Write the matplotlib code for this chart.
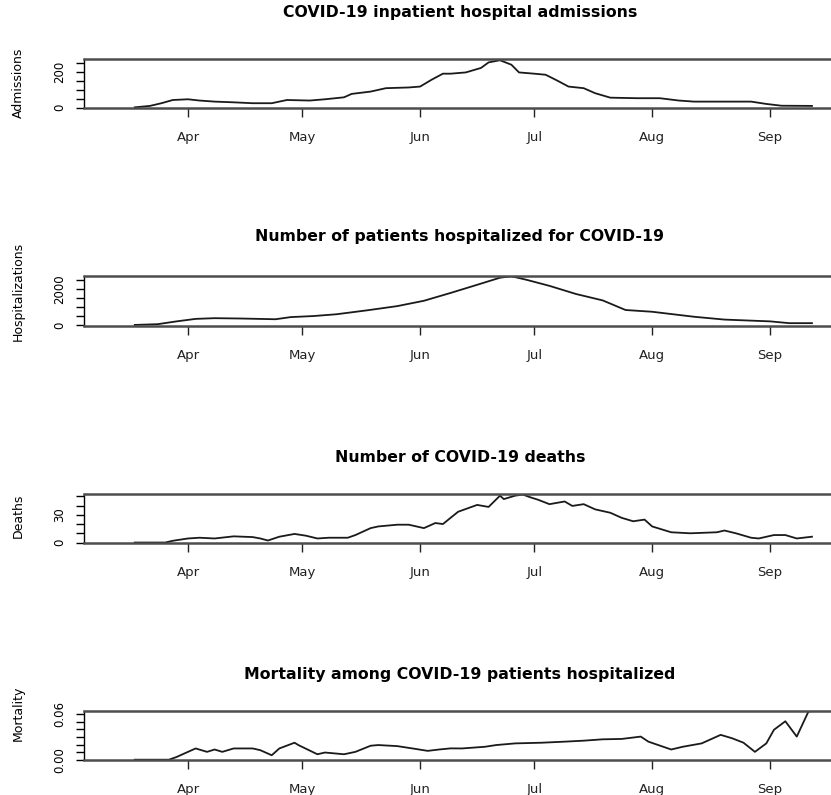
import numpy as np
import pandas as pd
import matplotlib
matplotlib.use('Agg')
import matplotlib.pyplot as plt
import matplotlib.dates as mdates

# days counted from 2020-03-01
start = pd.Timestamp('2020-03-01')

adm_day = [17, 21, 24, 27, 31, 34, 38, 43, 48, 53, 57, 63, 67, 72, 74, 79, 83, 89, 92, 95, 98, 100,
           104, 108, 110, 113, 116, 118, 122, 125, 128, 131, 135, 138, 142, 149, 155, 160, 164, 170,
           179, 183, 187, 195]
adm = [2, 10, 25, 43, 47, 40, 34, 30, 25, 25, 43, 40, 47, 58, 77, 90, 109, 113, 118, 156, 190, 190,
       197, 222, 253, 265, 240, 197, 190, 184, 152, 118, 109, 81, 56, 53, 53, 40, 34, 34,
       34, 21, 11, 10]

hosp_day = [17, 23, 28, 33, 38, 45, 54, 58, 64, 70, 78, 86, 93, 100, 107, 113, 116, 120, 126, 133,
            140, 146, 153, 164, 172, 184, 189, 195]
hosp = [0, 40, 197, 335, 374, 355, 315, 434, 493, 591, 808, 1044, 1340, 1774, 2227, 2620, 2700, 2503,
        2168, 1715, 1360, 828, 730, 453, 296, 197, 98, 98]

death_day = [17, 25, 27, 31, 34, 38, 43, 48, 50, 52, 55, 59, 62, 65, 68, 73, 75, 79, 81, 86, 89, 93,
             96, 98, 100, 102, 107, 110, 113, 114, 117, 119, 121, 123, 126, 130, 132, 135, 138, 142,
             145, 148, 151, 153, 158, 163, 170, 172, 175, 179, 181, 185, 188, 191, 195]
deaths = [0, 0, 1.9, 4.4, 5.2, 4.4, 6.7, 5.9, 4.4, 2.2, 6.3, 9.3, 7.4, 4.4, 5.2, 5.2, 8.1, 15.6, 17.4,
          19.3, 19.3, 15.6, 21.1, 20, 26.7, 33.3, 40.7, 38.5, 50.7, 47, 50.7, 51.9, 48.9, 46.3, 41.5,
          44.4, 39.6, 41.5, 35.9, 32.2, 26.7, 23, 24.8, 17.4, 11.1, 10, 11.1, 13, 10, 5.2, 4.4, 8.1,
          8.1, 4.4, 6.3]

mort_day = [17, 26, 28, 31, 33, 36, 38, 40, 43, 48, 50, 53, 55, 59, 60, 65, 67, 72, 75, 79, 81, 86,
            90, 94, 97, 100, 103, 109, 112, 117, 124, 130, 135, 140, 145, 150, 152, 158, 161, 166,
            171, 174, 177, 180, 183, 185, 188, 191, 194, 195]
mort = [0, 0, 0.0036, 0.0104, 0.0149, 0.0104, 0.0135, 0.0104, 0.0149, 0.0149, 0.0126, 0.0059, 0.0149,
        0.0225, 0.0194, 0.0072, 0.0095, 0.0072, 0.0104, 0.0185, 0.0194, 0.018, 0.0149, 0.0117, 0.0135,
        0.015, 0.0149, 0.0171, 0.0194, 0.0216, 0.0225, 0.0239, 0.0252, 0.027, 0.0275, 0.0306, 0.0239,
        0.0135, 0.0171, 0.0216, 0.0329, 0.0284, 0.0225, 0.0104, 0.0216, 0.0396, 0.0509, 0.0306, 0.063,
        0.066]

panels = [
    ('COVID-19 inpatient hospital admissions', 'Admissions', adm_day, adm,
     (-1.7, 272), [0, 50, 100, 150, 200, 250], ['0', '', '', '', '200', ''], 0.51),
    ('Number of patients hospitalized for COVID-19', 'Hospitalizations', hosp_day, hosp,
     (-60, 2715), [0, 500, 1000, 1500, 2000, 2500], ['0', '', '', '', '2000', ''], 0.7),
    ('Number of COVID-19 deaths', 'Deaths', death_day, deaths,
     (-0.5, 52.5), [0, 10, 20, 30, 40, 50], ['0', '', '', '30', '', ''], 0.55),
    ('Mortality among COVID-19 patients hospitalized', 'Mortality', mort_day, mort,
     (-0.0004, 0.0645), [0, 0.01, 0.02, 0.03, 0.04, 0.05, 0.06],
     ['0.00', '', '', '', '', '', '0.06'], 0.95),
]

# pixel layout of the reference (top, bottom of each plot box, title centre)
W, H = 831, 795
boxes = [(59, 108, 13), (276, 326, 237), (494, 543, 457), (711, 760, 675)]
left_px = 84

fig = plt.figure(figsize=(W / 100, H / 100), dpi=100)

xmin = start + pd.Timedelta(days=3.66)
xmax = start + pd.Timedelta(days=200)

for (title, ylab, days, vals, ylim, yt, ytl, ylab_y), (top, bot, ty) in zip(panels, boxes):
    ax = fig.add_axes([left_px / W, 1 - bot / H, (W - left_px) / W, (bot - top) / H])
    dates = start + pd.to_timedelta(days, unit='D')
    ax.plot(dates, vals, color='#1a1a1a', lw=1.3)
    ax.set_xlim(xmin, xmax)
    ax.set_ylim(*ylim)

    ax.xaxis.set_major_locator(mdates.MonthLocator())
    ax.xaxis.set_major_formatter(mdates.DateFormatter('%b'))
    ax.set_yticks(yt)
    ax.set_yticklabels(ytl, rotation=90, va='center')

    ax.tick_params(axis='x', length=6.5, width=1, pad=10, labelsize=9.5, colors='#222222')
    ax.tick_params(axis='y', length=6, width=1, pad=7, labelsize=8.5)

    ax.spines['right'].set_visible(False)
    ax.spines['left'].set_linewidth(1)
    for s in ('top', 'bottom'):
        ax.spines[s].set_color('#4d4d4d')
        ax.spines[s].set_linewidth(1.8)

    ax.set_ylabel(ylab, fontsize=9)
    ax.yaxis.set_label_coords(-59 / (W - left_px), ylab_y)

    fig.text(460 / W, 1 - ty / H, title, ha='center', va='center',
             fontsize=11.3, fontweight='bold')

fig.savefig('out.png', dpi=100)
